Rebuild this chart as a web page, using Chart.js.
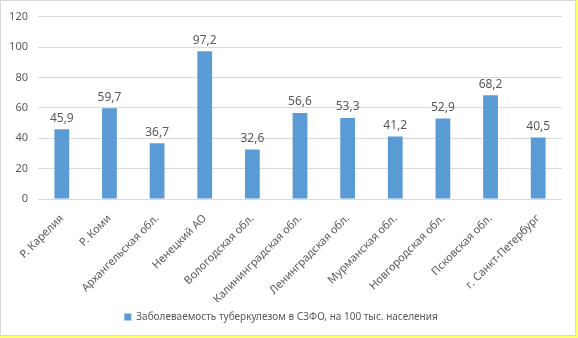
<!DOCTYPE html>
<html lang="ru">
<head>
  <meta charset="UTF-8" />
  <title>Заболеваемость туберкулезом в СЗФО</title>
  <script src="https://cdn.jsdelivr.net/npm/chart.js"></script>
  <style>
    body { margin: 0; padding: 0; background: #fff; }
    .outer {
      position: relative;
      width: 578px; height: 338px;
      background: #ffff66;
    }
    .frame {
      position: absolute; left: 0; top: 0;
      width: 576px; height: 336px;
      box-sizing: border-box;
      border: 1px solid #d9d9d9;
      background: #fff;
    }
    #chartCanvas { position: absolute; left: 0; top: 0; }
  </style>
</head>
<body>
  <div class="outer">
    <div class="frame"></div>
    <canvas id="chartCanvas" width="578" height="338"></canvas>
  </div>

  <script>
    const regions = [
      "Р. Карелия", "Р. Коми", "Архангельская обл.", "Ненецкий АО",
      "Вологодская обл.", "Калининградская обл.", "Ленинградская обл.",
      "Мурманская обл.", "Новгородская обл.", "Псковская обл.", "г. Санкт-Петербург"
    ];
    const incidence = [45.9, 59.7, 36.7, 97.2, 32.6, 56.6, 53.3, 41.2, 52.9, 68.2, 40.5];
    const seriesName = "Заболеваемость туберкулезом в СЗФО, на 100 тыс. населения";

    const FONT = "'Noto Sans', 'DejaVu Sans', sans-serif";
    const TEXT = "#595959";

    // подписи значений над столбиками
    const valueLabels = {
      id: "valueLabels",
      afterDatasetsDraw(chart) {
        const ctx = chart.ctx;
        const meta = chart.getDatasetMeta(0);
        ctx.save();
        ctx.font = "12px " + FONT;
        ctx.fillStyle = TEXT;
        ctx.textAlign = "center";
        ctx.textBaseline = "bottom";
        meta.data.forEach((bar, i) => {
          const v = chart.data.datasets[0].data[i];
          ctx.fillText(v.toFixed(1).replace(".", ","), bar.x, bar.y - 5);
        });
        ctx.restore();
      }
    };

    new Chart(document.getElementById("chartCanvas"), {
      type: "bar",
      data: {
        labels: regions,
        datasets: [{
          label: seriesName,
          data: incidence,
          backgroundColor: "#5b9bd5",
          categoryPercentage: 1,
          barPercentage: 0.31
        }]
      },
      options: {
        responsive: false,
        animation: false,
        layout: { padding: { left: 0, right: 16, top: 14, bottom: 6 } },
        plugins: {
          legend: {
            position: "bottom",
            labels: {
              boxWidth: 7, boxHeight: 7, padding: 10,
              color: TEXT,
              font: { family: FONT, size: 10 }
            }
          },
          tooltip: { enabled: false }
        },
        scales: {
          x: {
            grid: { display: false },
            border: { display: false },
            ticks: {
              maxRotation: 45, minRotation: 45,
              color: TEXT, padding: 5,
              font: { family: FONT, size: 11 }
            },
            afterFit(scale) { scale.height = 103; }
          },
          y: {
            min: 0, max: 120,
            ticks: {
              stepSize: 20, padding: 10,
              color: TEXT,
              font: { family: FONT, size: 11 }
            },
            grid: { color: "#d9d9d9", drawTicks: false },
            border: { display: false },
            afterFit(scale) { scale.width = 38; }
          }
        }
      },
      plugins: [valueLabels]
    });
  </script>
</body>
</html>
